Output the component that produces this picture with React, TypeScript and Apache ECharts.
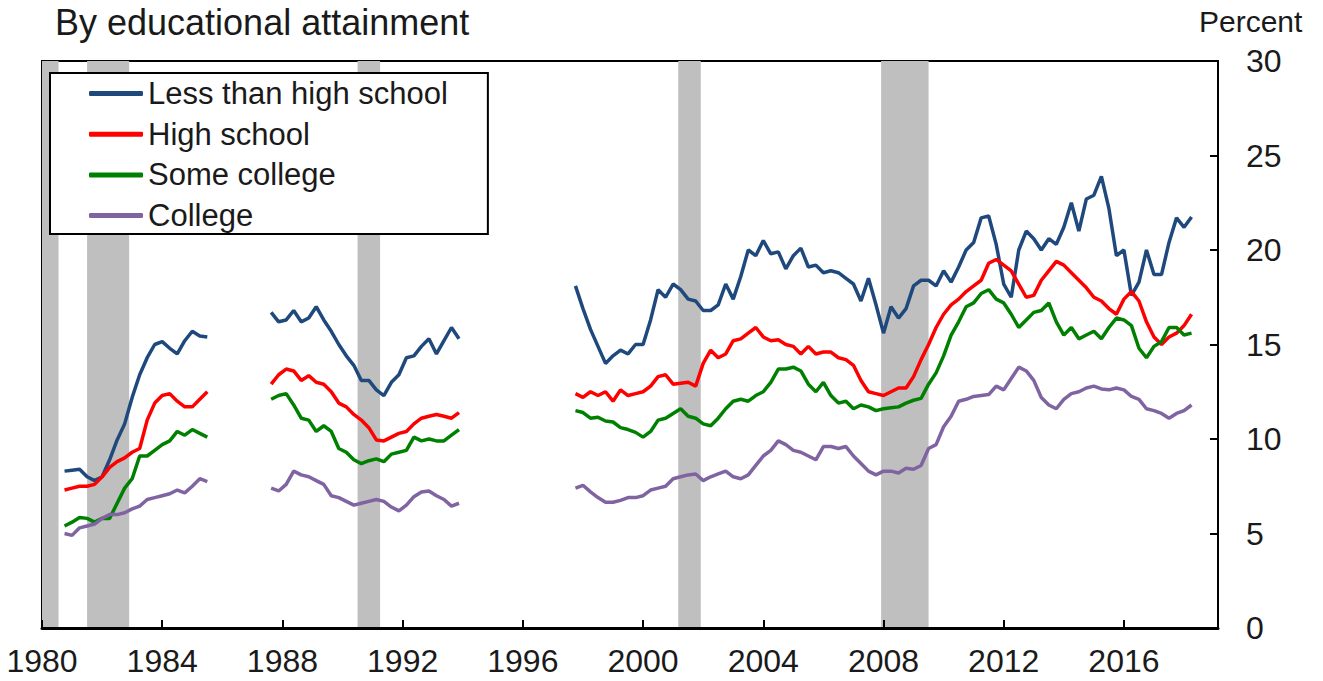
import React, { useEffect, useRef } from "react";
import * as echarts from "echarts";

// Quarterly observations, three contiguous segments (gaps in between)
const STEP = 0.25;
const seg1Start = 1980.75; // ...1985.5
const seg2Start = 1987.625; // ...1993.875
const seg3Start = 1997.75; // ...2018.25

const lessHS_1 = [8.3, 8.35, 8.4, 8.0, 7.8, 8.0, 8.9, 9.95, 10.8, 12.2, 13.4, 14.3, 15.0, 15.15, 14.8, 14.5, 15.2, 15.7, 15.45, 15.4];
const lessHS_2 = [16.7, 16.2, 16.3, 16.8, 16.2, 16.4, 17.0, 16.3, 15.7, 15.0, 14.4, 13.9, 13.1, 13.1, 12.6, 12.3, 13.0, 13.4, 14.3, 14.4, 14.9, 15.3, 14.5, 15.2, 15.9, 15.3];
const lessHS_3 = [18.1, 16.9, 15.8, 14.9, 14.0, 14.4, 14.7, 14.5, 15.0, 15.0, 16.3, 17.9, 17.5, 18.2, 17.9, 17.4, 17.3, 16.8, 16.8, 17.1, 18.2, 17.4, 18.6, 20.0, 19.7, 20.5, 19.8, 19.9, 19.0, 19.7, 20.1, 19.1, 19.2, 18.8, 18.9, 18.8, 18.5, 18.2, 17.3, 18.5, 17.1, 15.6, 17.0, 16.4, 16.9, 18.1, 18.4, 18.4, 18.1, 18.9, 18.3, 19.1, 20.0, 20.4, 21.7, 21.8, 20.3, 18.2, 17.5, 20.0, 21.0, 20.6, 20.0, 20.6, 20.3, 21.2, 22.5, 21.0, 22.7, 22.9, 23.9, 22.2, 19.7, 20.0, 17.6, 18.3, 20.0, 18.7, 18.7, 20.4, 21.7, 21.2, 21.75];

const highSchool_1 = [7.3, 7.4, 7.5, 7.5, 7.6, 8.0, 8.5, 8.8, 9.0, 9.3, 9.5, 11.0, 11.9, 12.3, 12.4, 12.0, 11.7, 11.7, 12.1, 12.5];
const highSchool_2 = [12.9, 13.4, 13.7, 13.6, 13.1, 13.35, 13.0, 12.9, 12.5, 11.9, 11.7, 11.3, 11.0, 10.6, 9.95, 9.9, 10.1, 10.3, 10.4, 10.8, 11.1, 11.2, 11.3, 11.2, 11.1, 11.4];
const highSchool_3 = [12.4, 12.2, 12.5, 12.3, 12.5, 12.0, 12.6, 12.3, 12.4, 12.5, 12.8, 13.3, 13.4, 12.9, 12.95, 13.0, 12.8, 14.0, 14.7, 14.3, 14.5, 15.2, 15.3, 15.6, 15.9, 15.4, 15.2, 15.25, 15.0, 14.9, 14.5, 14.9, 14.5, 14.6, 14.6, 14.3, 14.2, 13.9, 13.1, 12.5, 12.4, 12.3, 12.5, 12.7, 12.7, 13.3, 14.2, 15.0, 15.9, 16.6, 17.1, 17.4, 17.8, 18.1, 18.4, 19.3, 19.5, 19.2, 18.9, 18.2, 17.5, 17.6, 18.4, 18.9, 19.4, 19.2, 18.8, 18.4, 18.0, 17.5, 17.3, 16.9, 16.6, 17.4, 17.8, 17.3, 16.2, 15.4, 15.0, 15.4, 15.6, 16.0, 16.6];

const someCollege_1 = [5.4, 5.6, 5.85, 5.8, 5.6, 5.8, 5.8, 6.6, 7.4, 7.9, 9.1, 9.1, 9.4, 9.7, 9.9, 10.4, 10.2, 10.5, 10.3, 10.1];
const someCollege_2 = [12.1, 12.3, 12.4, 11.8, 11.1, 11.0, 10.4, 10.7, 10.4, 9.5, 9.3, 8.9, 8.7, 8.85, 8.95, 8.8, 9.2, 9.3, 9.4, 10.1, 9.9, 10.0, 9.9, 9.9, 10.2, 10.5];
const someCollege_3 = [11.5, 11.4, 11.1, 11.15, 10.95, 10.9, 10.6, 10.5, 10.35, 10.1, 10.4, 11.0, 11.1, 11.35, 11.6, 11.2, 11.1, 10.8, 10.7, 11.1, 11.6, 12.0, 12.1, 12.0, 12.3, 12.5, 13.0, 13.7, 13.7, 13.8, 13.6, 12.9, 12.5, 13.0, 12.3, 11.9, 12.0, 11.6, 11.8, 11.7, 11.5, 11.6, 11.65, 11.7, 11.9, 12.05, 12.15, 12.9, 13.5, 14.4, 15.5, 16.2, 17.0, 17.2, 17.7, 17.9, 17.4, 17.2, 16.6, 15.9, 16.3, 16.7, 16.8, 17.2, 16.2, 15.5, 15.9, 15.3, 15.5, 15.7, 15.3, 15.9, 16.4, 16.3, 16.0, 14.8, 14.3, 14.9, 15.15, 15.9, 15.9, 15.5, 15.6];

const college_1 = [5.0, 4.9, 5.3, 5.4, 5.5, 5.8, 6.0, 6.0, 6.1, 6.3, 6.45, 6.8, 6.9, 7.0, 7.1, 7.3, 7.15, 7.5, 7.9, 7.75];
const college_2 = [7.4, 7.25, 7.6, 8.3, 8.1, 8.0, 7.8, 7.6, 7.0, 6.9, 6.7, 6.5, 6.6, 6.7, 6.8, 6.7, 6.4, 6.2, 6.5, 6.95, 7.2, 7.25, 7.0, 6.8, 6.45, 6.6];
const college_3 = [7.4, 7.55, 7.2, 6.9, 6.65, 6.65, 6.75, 6.9, 6.9, 7.0, 7.3, 7.4, 7.5, 7.9, 8.0, 8.1, 8.15, 7.8, 8.0, 8.15, 8.3, 8.0, 7.9, 8.1, 8.6, 9.1, 9.4, 9.9, 9.7, 9.4, 9.3, 9.1, 8.9, 9.6, 9.6, 9.5, 9.6, 9.1, 8.7, 8.3, 8.1, 8.3, 8.3, 8.2, 8.45, 8.4, 8.6, 9.5, 9.7, 10.65, 11.2, 12.0, 12.1, 12.25, 12.3, 12.35, 12.8, 12.6, 13.2, 13.8, 13.6, 13.1, 12.2, 11.8, 11.6, 12.1, 12.4, 12.5, 12.7, 12.8, 12.65, 12.6, 12.7, 12.6, 12.25, 12.1, 11.6, 11.5, 11.35, 11.1, 11.35, 11.5, 11.8];

// NBER recessions (start, end)
const recessions = [
  [1980.0, 1980.55],
  [1981.5, 1982.9],
  [1990.5, 1991.25],
  [2001.17, 2001.92],
  [2007.92, 2009.5],
];

const seriesNames = ["Less than high school", "High school", "Some college", "College"];
const seriesColors = ["#1F497D", "#FF0000", "#008000", "#8064A2"];

function buildSeries(a: number[], b: number[], c: number[]) {
  const out: any[] = [];
  a.forEach((v, i) => out.push([seg1Start + i * STEP, v]));
  out.push([1986.5, "-"]);
  b.forEach((v, i) => out.push([seg2Start + i * STEP, v]));
  out.push([1995.5, "-"]);
  c.forEach((v, i) => out.push([seg3Start + i * STEP, v]));
  return out;
}

export default function App() {
  const ref = useRef<HTMLDivElement>(null);

  useEffect(() => {
    document.body.style.margin = "0";
    const chart = echarts.init(ref.current!, null, { renderer: "svg" });
    const data = [
      buildSeries(lessHS_1, lessHS_2, lessHS_3),
      buildSeries(highSchool_1, highSchool_2, highSchool_3),
      buildSeries(someCollege_1, someCollege_2, someCollege_3),
      buildSeries(college_1, college_2, college_3),
    ];
    const textColor = "#1a1a1a";
    const font = "Liberation Sans, Arial, sans-serif";
    chart.setOption({
      animation: false,
      backgroundColor: "#ffffff",
      title: {
        text: "By educational attainment",
        left: 55,
        top: 4,
        padding: 0,
        textStyle: { fontFamily: font, fontSize: 36, fontWeight: "normal", color: textColor },
      },
      graphic: [
        {
          type: "text",
          left: 1199,
          top: 6,
          style: { text: "Percent", fontFamily: font, fontSize: 30, fill: textColor },
        },
      ],
      legend: {
        data: seriesNames,
        orient: "vertical",
        left: 50,
        top: 73,
        padding: [5, 40, 3, 39],
        itemGap: 9.7,
        itemWidth: 54,
        itemHeight: 5,
        icon: "roundRect",
        backgroundColor: "#ffffff",
        borderColor: "#000000",
        borderWidth: 2,
        borderRadius: 0,
        textStyle: { fontFamily: font, fontSize: 31, color: textColor, lineHeight: 30 },
      },
      grid: {
        left: 42,
        right: 105,
        top: 61,
        bottom: 53,
        show: true,
        borderColor: "#000000",
        borderWidth: 2,
        backgroundColor: "transparent",
      },
      xAxis: {
        type: "value",
        min: 1980,
        max: 2019.13,
        interval: 4,
        axisLine: { show: true, lineStyle: { color: "#000000", width: 3 } },
        axisTick: { show: true, inside: true, length: 8, lineStyle: { color: "#000000", width: 2 } },
        axisLabel: {
          margin: 17,
          showMaxLabel: false,
          fontFamily: font,
          fontSize: 32,
          color: textColor,
          formatter: (v: number) => String(Math.round(v)),
        },
        splitLine: { show: false },
      },
      yAxis: {
        type: "value",
        position: "right",
        min: 0,
        max: 30,
        interval: 5,
        axisLine: { show: true, lineStyle: { color: "#000000", width: 2 } },
        axisTick: { show: true, inside: true, length: 8, lineStyle: { color: "#000000", width: 2 } },
        axisLabel: {
          margin: 28,
          fontFamily: font,
          fontSize: 32,
          color: textColor,
        },
        splitLine: { show: false },
      },
      series: [
        {
          type: "custom",
          name: "Recessions",
          silent: true,
          z: 0,
          data: recessions,
          renderItem: (params: any, api: any) => {
            const p0 = api.coord([api.value(0), 30]);
            const p1 = api.coord([api.value(1), 0]);
            return {
              type: "rect",
              shape: { x: p0[0], y: p0[1], width: p1[0] - p0[0], height: p1[1] - p0[1] },
              style: { fill: "#BFBFBF" },
            };
          },
          encode: { x: [0, 1] },
        },
        ...seriesNames.map((name, i) => ({
          type: "line",
          name,
          data: data[i],
          z: 2,
          showSymbol: false,
          symbol: "none",
          connectNulls: false,
          color: seriesColors[i],
          lineStyle: { color: seriesColors[i], width: 3.5 },
        })),
      ],
    });
    return () => chart.dispose();
  }, []);

  return <div ref={ref} style={{ width: 1323, height: 681 }} />;
}
